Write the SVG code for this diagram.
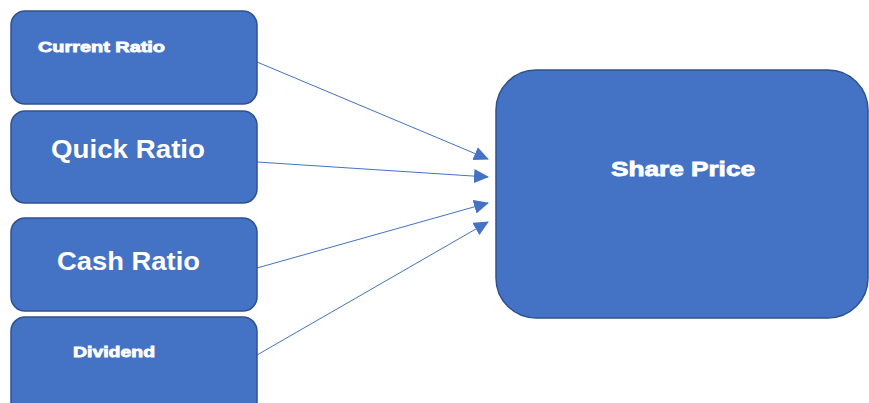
<svg xmlns="http://www.w3.org/2000/svg" width="869" height="403" viewBox="0 0 869 403">
<style>
.box{fill:#4472C4;stroke:#2F528F;stroke-width:1.5}
.t{fill:#fff;font-family:"Liberation Sans",Arial,sans-serif;font-weight:bold}
.heavy{stroke:#fff;stroke-width:0.8}
.c{stroke:#4472C4;stroke-width:1;fill:none;marker-end:url(#ah)}
</style>
<defs>
<marker id="ah" markerWidth="16" markerHeight="14" refX="14" refY="7" orient="auto" markerUnits="userSpaceOnUse">
<path d="M0,0 L15,7 L0,14 Z" fill="#4472C4"/>
</marker>
</defs>
<rect width="869" height="403" fill="#fff"/>
<g id="connectors">
<line class="c" x1="257" y1="62" x2="488" y2="159"/>
<line class="c" x1="257" y1="162" x2="488" y2="177"/>
<line class="c" x1="257" y1="268" x2="488" y2="203"/>
<line class="c" x1="257" y1="355" x2="488" y2="222"/>
</g>
<g id="current-ratio">
<rect class="box" x="11" y="11" width="246" height="93" rx="14"/>
<text class="t heavy" x="38" y="52" font-size="15" textLength="127" lengthAdjust="spacingAndGlyphs">Current Ratio</text>
</g>
<g id="quick-ratio">
<rect class="box" x="11" y="111" width="246" height="92" rx="14"/>
<text class="t" x="51" y="158" font-size="26" textLength="154" lengthAdjust="spacingAndGlyphs">Quick Ratio</text>
</g>
<g id="cash-ratio">
<rect class="box" x="11" y="218" width="246" height="93" rx="14"/>
<text class="t" x="57" y="270" font-size="26" textLength="143" lengthAdjust="spacingAndGlyphs">Cash Ratio</text>
</g>
<g id="dividend">
<rect class="box" x="11" y="317" width="246" height="100" rx="14"/>
<text class="t heavy" x="73" y="357" font-size="15" textLength="82" lengthAdjust="spacingAndGlyphs">Dividend</text>
</g>
<g id="share-price">
<rect class="box" x="496" y="70" width="372" height="248" rx="40"/>
<text class="t heavy" x="611" y="176" font-size="20" textLength="144" lengthAdjust="spacingAndGlyphs">Share Price</text>
</g>
</svg>
